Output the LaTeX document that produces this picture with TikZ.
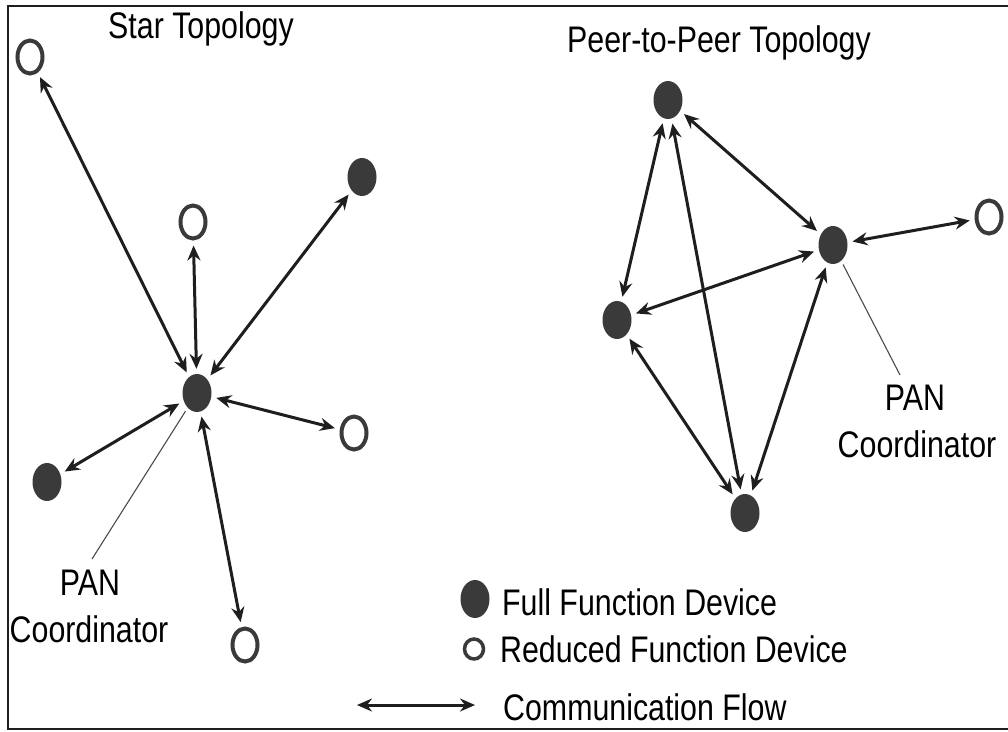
\documentclass[tikz,border=0pt]{standalone}
\usepackage{fontspec}
\setmainfont{Liberation Sans}[FakeStretch=0.82]
\usetikzlibrary{arrows.meta,shapes.geometric}
\definecolor{dev}{HTML}{3A3A3A}
\definecolor{ink}{HTML}{1E1E1E}
\tikzset{
 ffd/.style={ellipse, fill=dev, draw=none, minimum width=29pt, minimum height=38pt, inner sep=0pt},
 rfd/.style={ellipse, draw=dev, line width=4pt, fill=white, minimum width=25pt, minimum height=33pt, inner sep=0pt},
 flow/.style={draw=ink, line width=3pt, {Stealth[length=15pt,width=13pt,inset=5pt]}-{Stealth[length=15pt,width=13pt,inset=5pt]}, shorten <=5pt, shorten >=5pt},
 lbl/.style={font=\fontsize{37}{40}\selectfont, inner sep=0pt, anchor=base},
 leglbl/.style={font=\fontsize{37}{40}\selectfont, inner sep=0pt, anchor=base west},
 leader/.style={draw=ink!80, line width=1.1pt},
}
\begin{document}
\begin{tikzpicture}[x=1pt,y=-1pt]
\useasboundingbox (0,0) rectangle (1008,731);
\fill[white] (0,0) rectangle (1008,731);
% frame
\draw[line width=1.8pt, draw=ink] (1010,6) -- (8,6) -- (8,729) -- (1010,729);

% titles
\node[lbl] (t1) at (201,38) {Star Topology};
\node[lbl] (t2) at (719,52) {Peer-to-Peer Topology};

% star topology
\node[ffd] (c) at (197,393) {};
\node[rfd] (s1) at (30,57) {};
\node[rfd] (s2) at (193,222) {};
\node[ffd] (s3) at (362,177) {};
\node[ffd] (s4) at (47,482) {};
\node[rfd] (s5) at (354,433) {};
\node[rfd] (s6) at (245,645) {};
\draw[flow] (c) -- (s1);
\draw[flow] (c) -- (s2);
\draw[flow] (c) -- (s3);
\draw[flow] (c) -- (s4);
\draw[flow] (c) -- (s5);
\draw[flow] (c) -- (s6);
\node[lbl] (panL) at (90,595) {PAN};
\node[lbl] (coordL) at (89,642) {Coordinator};
\coordinate (ldL) at (92,559);
\draw[leader, shorten <=4pt] (c) -- (ldL);

% peer-to-peer topology
\node[ffd] (pt) at (668,100) {};
\node[ffd] (pc) at (833,245) {};
\node[rfd] (po) at (989,217) {};
\node[ffd] (pl) at (617,320) {};
\node[ffd] (pb) at (745,513) {};
\draw[flow] (pt) -- (pc);
\draw[flow] (pt) -- (pl);
\draw[flow] (pt) -- (pb);
\draw[flow] (pc) -- (pl);
\draw[flow] (pc) -- (pb);
\draw[flow] (pl) -- (pb);
\draw[flow] (pc) -- (po);
\node[lbl] (panR) at (915,410) {PAN};
\node[lbl] (coordR) at (917,457) {Coordinator};
\coordinate (ldR) at (900,375);
\draw[leader, shorten <=4pt] (pc) -- (ldR);

% legend
\node[ffd] (lf) at (475,599) {};
\node[leglbl] (lft) at (502,615) {Full Function Device};
\node[rfd, minimum width=19pt, minimum height=20pt, line width=3.5pt] (lr) at (474,649) {};
\node[leglbl] (lrt) at (500,662) {Reduced Function Device};
\coordinate (la1) at (357,705);
\coordinate (la2) at (475,705);
\draw[flow, shorten <=0pt, shorten >=0pt] (la1) -- (la2);
\node[leglbl] (lat) at (503,720) {Communication Flow};
\end{tikzpicture}
\end{document}
